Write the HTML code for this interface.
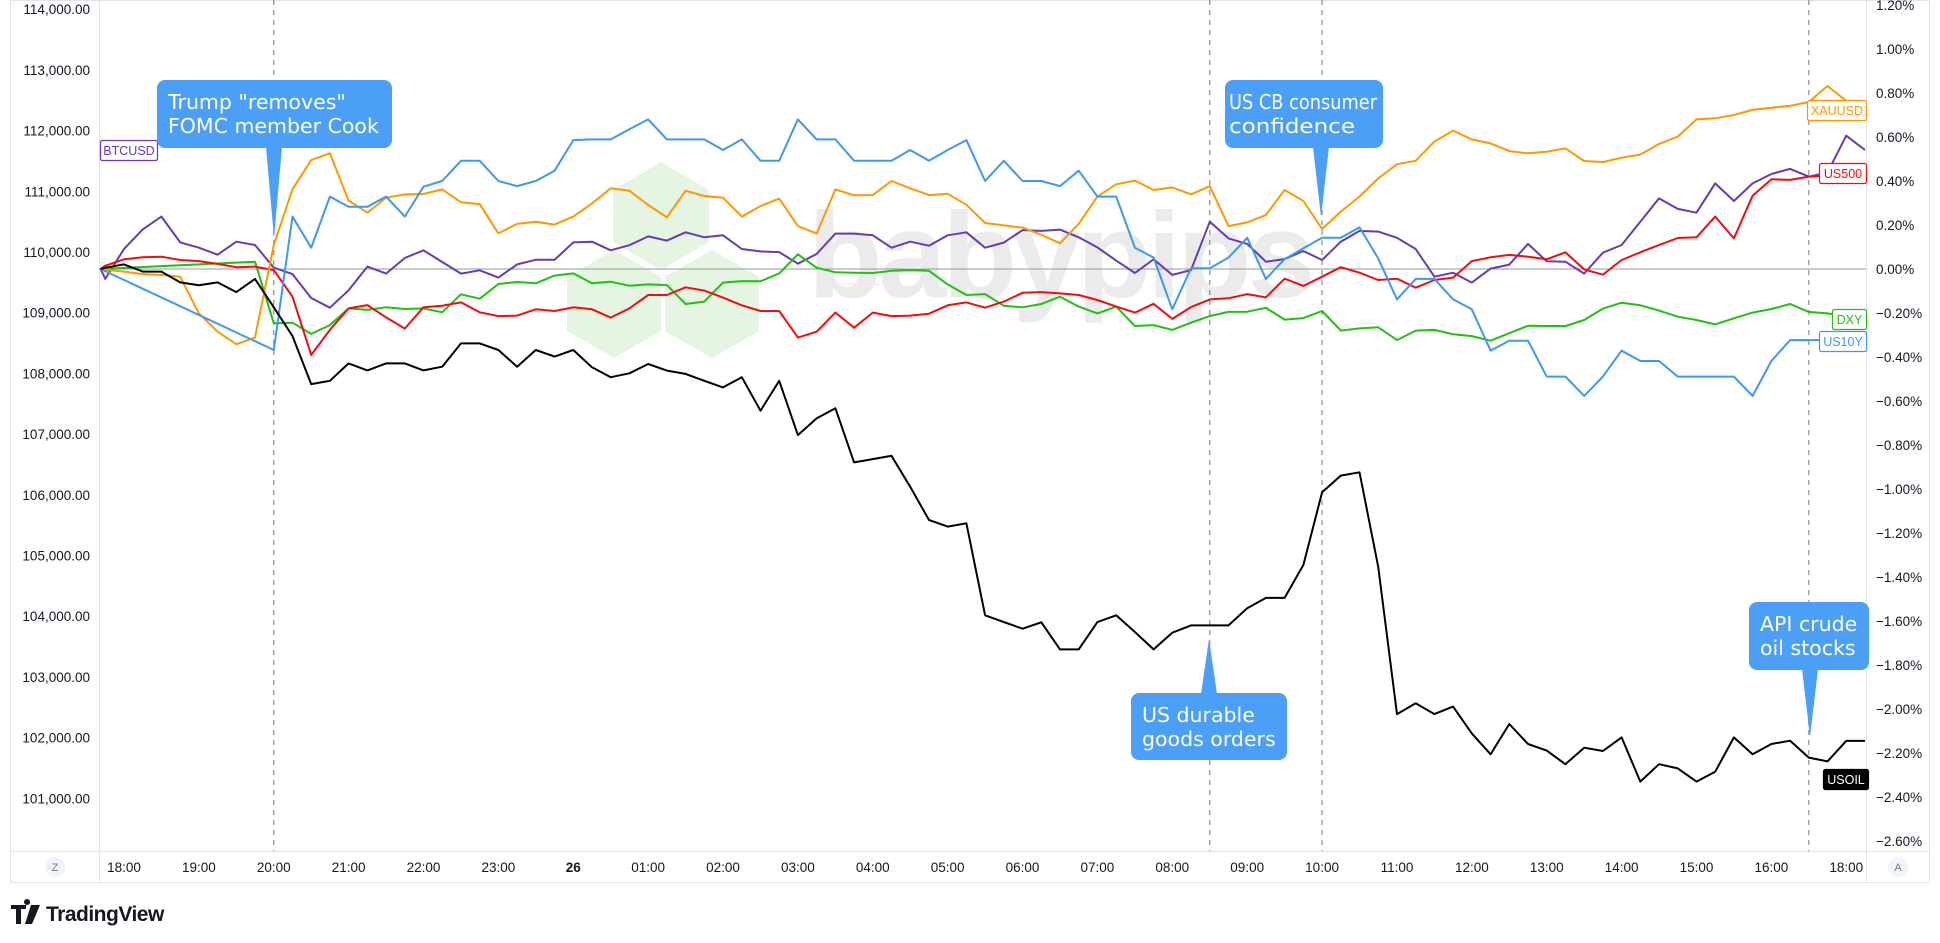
<!DOCTYPE html>
<html><head><meta charset="utf-8"><style>
html,body{margin:0;padding:0;background:#fff;}
svg{display:block;font-family:"Liberation Sans",sans-serif;}
</style></head><body>
<svg id="chart" width="1940" height="943" viewBox="0 0 1940 943" xmlns="http://www.w3.org/2000/svg">
<rect x="0" y="0" width="1940" height="943" fill="#fff"/>
<rect x="10.5" y="0.5" width="1919" height="882" fill="none" stroke="#e0e3eb"/>
<line x1="99.5" y1="0" x2="99.5" y2="883" stroke="#e0e3eb"/>
<line x1="1866.5" y1="0" x2="1866.5" y2="883" stroke="#e0e3eb"/>
<line x1="10" y1="851.5" x2="1930" y2="851.5" stroke="#e0e3eb"/>
<g opacity="1">
  <polygon points="661,162 709,190 709,242 661,270 613,242 613,190" fill="#e6f4e2"/>
  <polygon points="614,250 661,277 661,331 614,358 567,331 567,277" fill="#e6f4e2"/>
  <polygon points="712,250 759,277 759,331 712,358 665,331 665,277" fill="#e6f4e2"/>
  <text x="808" y="297" font-size="122" font-weight="bold" fill="#ebebeb" letter-spacing="-4">babypips</text>
</g>
<g id="grid"></g>
<g id="series"></g>
<g id="axes"></g>
<g id="notes"></g>
<g>
  <path d="M11 905h15v4h-5v15h-5v-15h-5z M27 905a3 3 0 1 1 0.1 0z M31 905h9l-8 19h-7z" fill="#131722"/>
  <text x="46" y="921" font-size="21" font-weight="bold" fill="#131722" letter-spacing="-0.5">TradingView</text>
</g>
<g>
  <circle cx="55" cy="867" r="10" fill="#f0f3fa"/>
  <text x="55" y="871" font-size="11" text-anchor="middle" fill="#787b86">Z</text>
</g>
<g>
  <circle cx="1898" cy="867" r="10" fill="#f0f3fa"/>
  <text x="1898" y="871" font-size="11" text-anchor="middle" fill="#787b86">A</text>
</g>
</svg>
<script>
const NS="http://www.w3.org/2000/svg";
// quarter-hour slot index (0 = 18:00); first point at plot edge
const times=[-1.25,-1];
for(let k=0;k<=93;k++)times.push(k);
const btcusd=[0,-0.045,
0.091,0.180,0.238,0.121,0.097,0.065,0.124,0.109,0.006,-0.023,
-0.132,-0.176,-0.097,0.011,-0.021,0.050,0.085,0.032,-0.021,-0.006,
-0.039,0.021,0.042,0.042,0.121,0.124,0.085,0.108,0.148,0.129,
0.167,0.144,0.153,0.091,0.080,0.077,0.024,0.068,0.161,0.161,
0.153,0.097,0.124,0.106,0.153,0.167,0.097,0.120,0.177,0.173,
0.179,0.144,0.098,0.038,-0.018,0.044,-0.027,-0.005,0.215,0.139,
0.114,0.033,0.045,0.082,0.041,0.124,0.173,0.170,0.142,0.091,
-0.035,-0.017,-0.062,0.002,0.020,0.114,0.035,0.033,-0.021,0.074,
0.109,0.215,0.321,0.273,0.256,0.389,0.309,0.389,0.432,0.455,
0.420,0.438,0.606,0.541];
const xauusd=[0,-0.003,
-0.012,-0.023,-0.027,-0.035,-0.202,-0.285,-0.342,-0.312,0.109,0.362,
0.495,0.526,0.311,0.256,0.324,0.339,0.341,0.362,0.303,0.295,
0.162,0.205,0.215,0.202,0.238,0.298,0.367,0.356,0.291,0.235,
0.356,0.332,0.324,0.238,0.286,0.320,0.195,0.161,0.362,0.335,
0.336,0.400,0.367,0.336,0.342,0.292,0.209,0.198,0.188,0.155,
0.117,0.205,0.329,0.385,0.402,0.359,0.371,0.339,0.377,0.195,
0.212,0.245,0.359,0.309,0.182,0.261,0.329,0.412,0.476,0.492,
0.579,0.629,0.589,0.571,0.536,0.526,0.533,0.548,0.491,0.486,
0.506,0.520,0.568,0.602,0.680,0.685,0.700,0.723,0.733,0.742,
0.759,0.832,0.764,0.718];
const us10y=[0,null,
null,null,null,null,null,null,null,null,-0.368,0.238,
0.097,0.329,0.283,0.283,0.329,0.238,0.374,0.400,0.492,0.492,
0.400,0.377,0.400,0.447,0.586,0.589,0.589,0.635,0.680,0.589,
0.589,0.589,0.541,0.589,0.492,0.492,0.680,0.589,0.589,0.492,
0.492,0.492,0.541,0.492,0.541,0.586,0.400,0.492,0.400,0.400,
0.377,0.447,0.329,0.329,0.097,0.052,-0.183,0.003,0.003,0.052,
0.142,-0.045,0.045,0.094,0.142,0.142,0.189,0.048,-0.138,-0.045,
-0.045,-0.138,-0.183,-0.371,-0.326,-0.326,-0.489,-0.489,-0.577,-0.489,
-0.371,-0.418,-0.418,-0.489,-0.489,-0.489,-0.489,-0.577,-0.418,-0.323,
-0.323,-0.323,-0.323,-0.323];
const dxy=[0,null,
null,null,null,null,null,null,null,0.033,-0.247,-0.244,
-0.295,-0.255,-0.179,-0.186,-0.174,-0.182,-0.179,-0.197,-0.115,-0.135,
-0.068,-0.059,-0.065,-0.030,-0.020,-0.065,-0.058,-0.076,-0.070,-0.073,
-0.159,-0.148,-0.062,-0.055,-0.056,-0.020,0.067,0.006,-0.015,-0.017,
-0.018,-0.008,-0.006,-0.008,-0.070,-0.118,-0.114,-0.167,-0.174,-0.159,
-0.126,-0.171,-0.202,-0.171,-0.259,-0.255,-0.277,-0.244,-0.214,-0.195,
-0.194,-0.177,-0.230,-0.223,-0.191,-0.280,-0.270,-0.265,-0.323,-0.280,
-0.277,-0.297,-0.305,-0.326,-0.292,-0.258,-0.259,-0.259,-0.232,-0.180,
-0.153,-0.165,-0.189,-0.217,-0.232,-0.252,-0.224,-0.198,-0.182,-0.159,
-0.195,-0.202,-0.217,-0.224];
const us500=[0,0.015,
0.044,0.053,0.056,0.041,0.036,0.023,0.008,0.011,-0.005,-0.126,
-0.391,-0.277,-0.179,-0.164,-0.220,-0.271,-0.174,-0.167,-0.152,-0.197,
-0.214,-0.212,-0.183,-0.191,-0.174,-0.183,-0.221,-0.179,-0.118,-0.118,
-0.083,-0.098,-0.130,-0.165,-0.191,-0.191,-0.312,-0.285,-0.198,-0.267,
-0.198,-0.214,-0.212,-0.203,-0.165,-0.152,-0.176,-0.148,-0.108,-0.105,
-0.111,-0.118,-0.141,-0.171,-0.198,-0.158,-0.227,-0.173,-0.138,-0.133,
-0.114,-0.129,-0.044,-0.077,-0.035,0.008,-0.017,-0.050,-0.044,-0.085,
-0.050,-0.039,0.036,0.053,0.064,0.056,0.044,0.076,-0.002,-0.026,
0.041,0.076,0.109,0.141,0.144,0.238,0.139,0.333,0.408,0.405,
0.420,0.423,0.424,0.424];
const usoil=[0,0.006,
0.021,-0.012,-0.012,-0.061,-0.074,-0.061,-0.105,-0.045,-0.174,-0.305,
-0.523,-0.508,-0.429,-0.461,-0.429,-0.429,-0.461,-0.444,-0.338,-0.338,
-0.368,-0.444,-0.368,-0.398,-0.368,-0.447,-0.492,-0.474,-0.432,-0.462,
-0.477,-0.508,-0.538,-0.492,-0.644,-0.508,-0.755,-0.679,-0.633,-0.879,
-0.864,-0.849,-0.990,-1.141,-1.171,-1.156,-1.574,-1.605,-1.635,-1.606,
-1.729,-1.729,-1.605,-1.574,-1.650,-1.729,-1.653,-1.620,-1.620,-1.620,
-1.542,-1.495,-1.495,-1.345,-1.015,-0.939,-0.924,-1.353,-2.023,-1.974,
-2.023,-1.989,-2.111,-2.206,-2.068,-2.159,-2.189,-2.251,-2.176,-2.191,
-2.129,-2.330,-2.251,-2.270,-2.330,-2.285,-2.129,-2.206,-2.159,-2.144,
-2.221,-2.238,-2.145,-2.145];
const pctTicks=[1.2,1.0,0.8,0.6,0.4,0.2,0,-0.2,-0.4,-0.6,-0.8,-1.0,-1.2,-1.4,-1.6,-1.8,-2.0,-2.2,-2.4,-2.6];
const priceTicks=[114000,113000,112000,111000,110000,109000,108000,107000,106000,105000,104000,103000,102000,101000];
const timeLabels=["18:00","19:00","20:00","21:00","22:00","23:00","26","01:00","02:00","03:00","04:00","05:00","06:00","07:00","08:00","09:00","10:00","11:00","12:00","13:00","14:00","15:00","16:00","18:00"];
const timeSlots=[0,4,8,12,16,20,24,28,32,36,40,44,48,52,56,60,64,68,72,76,80,84,88,92];
const eventSlots=[8,58,64,90];

const xS=k=>124+18.72*k;
const yS=v=>269-220*v;
const yP=p=>252+(110000-p)*0.0607;

function mk(tag,attrs,parent){const e=document.createElementNS(NS,tag);for(const a in attrs)e.setAttribute(a,attrs[a]);parent.appendChild(e);return e;}
const grid=document.getElementById('grid'),ser=document.getElementById('series'),axes=document.getElementById('axes'),notes=document.getElementById('notes');

let zl=mk('line',{x1:99,x2:1866,y1:yS(0),y2:yS(0),stroke:'#9598a1','stroke-width':1},grid);


eventSlots.forEach(k=>{
  const l=mk('line',{x1:xS(k),x2:xS(k),y1:0,y2:851,stroke:'#8a8d96','stroke-width':1.2,'stroke-dasharray':'5,5'},grid);
  
  
});

function drawSeries(vals,color,name){
  let d='';let started=false;
  vals.forEach((v,i)=>{if(v===null)return;d+=(started?'L':'M')+xS(times[i]).toFixed(1)+' '+yS(v).toFixed(1);started=true;});
  const p=mk('path',{d:d,fill:'none',stroke:color,'stroke-width':2,'stroke-linejoin':'round'},ser);
  
  
}
drawSeries(btcusd,'#673ab7','btcusd-line');
drawSeries(dxy,'#22c011','dxy-line');
drawSeries(us500,'#f20d0d','us500-line');
drawSeries(xauusd,'#ff9800','xauusd-line');
drawSeries(us10y,'#3d98f0','us10y-line');
drawSeries(usoil,'#000000','usoil-line');

pctTicks.forEach(v=>{
  const t=mk('text',{x:1876,y:yS(v)+5,'font-size':13.5,fill:'#131722'},axes);
  t.textContent=(v<0?'\u2212':'')+Math.abs(v).toFixed(2)+'%';
  
  
});
priceTicks.forEach(p=>{
  const t=mk('text',{x:90,y:yP(p)+5,'font-size':13.5,fill:'#131722','text-anchor':'end'},axes);
  t.textContent=p.toLocaleString('en-US')+'.00';
  
  
});
timeLabels.forEach((s,i)=>{
  const t=mk('text',{x:xS(timeSlots[i]),y:872,'font-size':13.5,fill:'#131722','text-anchor':'middle','font-weight':s==='26'?'bold':'normal'},axes);
  t.textContent=s;
  
  
});

function tag(x,y,w,label,color,filled,name){
  const g=mk('g',{},axes);
  
  
  mk('rect',{x:x+0.5,y:y+0.5,width:w,height:20,rx:2,fill:filled?color:'#fff',stroke:color,'stroke-width':1.2},g);
  const t=mk('text',{x:x+w/2+0.5,y:y+15,'font-size':12.5,'text-anchor':'middle',fill:filled?'#fff':color},g);
  t.textContent=label;
}
tag(100,140,57,'BTCUSD','#673ab7',false,'btcusd-label');
tag(1807,100,59,'XAUUSD','#ff9800',false,'xauusd-label');
tag(1819,163,47,'US500','#f20d0d',false,'us500-label');
tag(1832,309,34,'DXY','#22c011',false,'dxy-label');
tag(1819,331,47,'US10Y','#3d98f0',false,'us10y-label');
tag(1823,769,45,'USOIL','#000000',true,'usoil-label');

function callout(x,y,w,h,tipX,tipY,lines,name,pad,lens){
  const g=mk('g',{},notes);
  
  
  const c='#4c9ff7';
  mk('rect',{x:x,y:y,width:w,height:h,rx:8,fill:c},g);
  const up=tipY<y;
  const by=up?y+1:y+h-1;
  mk('polygon',{points:(tipX-8)+','+by+' '+(tipX+8)+','+by+' '+tipX+','+tipY,fill:c},g);
  lines.forEach((s,i)=>{
    const a={x:x+pad,y:y+29+i*24,'font-size':20.5,fill:'#fff','font-family':'"DejaVu Sans","Liberation Sans",sans-serif'};
    if(lens){a.textLength=lens[i];a.lengthAdjust='spacingAndGlyphs';}
    const t=mk('text',a,g);
    t.textContent=s;
  });
}
callout(157,80,235,68,274,238,['Trump "removes"','FOMC member Cook'],'callout-fomc-cook',11);
callout(1225,80,158,68,1321,217,['US CB consumer','confidence'],'callout-cb-confidence',4,[148,126]);
callout(1131,693,156,67,1209,639,['US durable','goods orders'],'callout-durable-goods',11);
callout(1749,602,120,68,1810,737,['API crude','oil stocks'],'callout-api-crude',11);
</script>
</body></html>
